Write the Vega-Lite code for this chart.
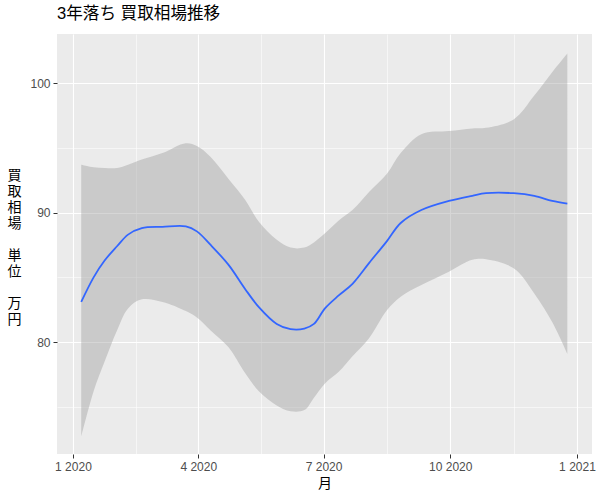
{
  "$schema": "https://vega.github.io/schema/vega-lite/v6.json",
  "autosize": {"type": "none"},
  "width": 535,
  "height": 420,
  "padding": {"left": 57, "top": 34, "right": 8, "bottom": 46},
  "background": "white",
  "view": {"fill": "#EBEBEB", "stroke": null},
  "config": {
    "font": "Liberation Sans, Noto Sans CJK JP",
    "axis": {
      "domain": false,
      "gridColor": "white",
      "labelColor": "#4D4D4D",
      "labelFontSize": 12,
      "tickColor": "#333333",
      "tickSize": 4,
      "titleFontWeight": "normal",
      "titleColor": "black"
    }
  },
  "title": {
    "text": "3年落ち 買取相場推移",
    "anchor": "start",
    "frame": "group",
    "fontSize": 16.6,
    "fontWeight": "normal",
    "color": "black",
    "baseline": "alphabetic",
    "offset": 0,
    "dy": 2
  },
  "data": {
    "values": [
      {"date": "2020-01-07", "fit": 83.1, "lo": 72.7, "hi": 93.7},
      {"date": "2020-01-16", "fit": 85.0, "lo": 76.2, "hi": 93.5},
      {"date": "2020-01-24", "fit": 86.3, "lo": 78.5, "hi": 93.45},
      {"date": "2020-02-02", "fit": 87.4, "lo": 80.9, "hi": 93.45},
      {"date": "2020-02-10", "fit": 88.3, "lo": 82.6, "hi": 93.7},
      {"date": "2020-02-20", "fit": 88.8, "lo": 83.3, "hi": 94.1},
      {"date": "2020-03-06", "fit": 88.9, "lo": 83.1, "hi": 94.6},
      {"date": "2020-03-23", "fit": 88.94, "lo": 82.4, "hi": 95.36},
      {"date": "2020-03-31", "fit": 88.55, "lo": 81.9, "hi": 95.15},
      {"date": "2020-04-10", "fit": 87.5, "lo": 80.9, "hi": 94.3},
      {"date": "2020-04-23", "fit": 85.96, "lo": 79.6, "hi": 92.6},
      {"date": "2020-05-05", "fit": 84.1, "lo": 77.6, "hi": 91.0},
      {"date": "2020-05-15", "fit": 82.7, "lo": 76.2, "hi": 89.3},
      {"date": "2020-05-28", "fit": 81.4, "lo": 75.1, "hi": 87.9},
      {"date": "2020-06-07", "fit": 81.0, "lo": 74.65, "hi": 87.3},
      {"date": "2020-06-17", "fit": 81.04, "lo": 74.74, "hi": 87.3},
      {"date": "2020-06-24", "fit": 81.4, "lo": 75.7, "hi": 87.7},
      {"date": "2020-07-02", "fit": 82.6, "lo": 76.8, "hi": 88.4},
      {"date": "2020-07-12", "fit": 83.6, "lo": 77.7, "hi": 89.4},
      {"date": "2020-07-22", "fit": 84.5, "lo": 78.9, "hi": 90.2},
      {"date": "2020-08-03", "fit": 86.1, "lo": 80.3, "hi": 91.6},
      {"date": "2020-08-16", "fit": 87.8, "lo": 82.46, "hi": 93.0},
      {"date": "2020-08-26", "fit": 89.2, "lo": 83.5, "hi": 94.6},
      {"date": "2020-09-10", "fit": 90.2, "lo": 84.4, "hi": 96.06},
      {"date": "2020-09-30", "fit": 90.9, "lo": 85.44, "hi": 96.3},
      {"date": "2020-10-17", "fit": 91.3, "lo": 86.35, "hi": 96.5},
      {"date": "2020-10-27", "fit": 91.5, "lo": 86.4, "hi": 96.55},
      {"date": "2020-11-16", "fit": 91.5, "lo": 85.7, "hi": 97.2},
      {"date": "2020-12-01", "fit": 91.3, "lo": 83.76, "hi": 99.04},
      {"date": "2020-12-14", "fit": 90.9, "lo": 81.55, "hi": 100.85},
      {"date": "2020-12-25", "fit": 90.7, "lo": 79.1, "hi": 102.3}
    ]
  },
  "encoding": {
    "x": {
      "field": "date",
      "type": "temporal",
      "scale": {
        "type": "utc",
        "domain": [
          {"year": 2019, "month": 12, "date": 20, "hours": 10, "utc": true},
          {"year": 2021, "month": 1, "date": 11, "hours": 22, "utc": true}
        ]
      },
      "axis": {
        "title": "月",
        "titleFontSize": 14,
        "titlePadding": 4,
        "labelPadding": 3,
        "labelFlush": false,
        "labelOverlap": false,
        "values": [
          {"year": 2020, "month": 1, "date": 1, "utc": true},
          {"year": 2020, "month": 2, "date": 15, "hours": 12, "utc": true},
          {"year": 2020, "month": 4, "date": 1, "utc": true},
          {"year": 2020, "month": 5, "date": 16, "hours": 12, "utc": true},
          {"year": 2020, "month": 7, "date": 1, "utc": true},
          {"year": 2020, "month": 8, "date": 16, "utc": true},
          {"year": 2020, "month": 10, "date": 1, "utc": true},
          {"year": 2020, "month": 11, "date": 16, "utc": true},
          {"year": 2021, "month": 1, "date": 1, "utc": true}
        ],
        "labelExpr": "utcdate(datum.value) == 1 && utchours(datum.value) == 0 ? utcFormat(datum.value, '%-m %Y') : ''",
        "gridWidth": {"condition": {"test": "utcdate(datum.value) == 1 && utchours(datum.value) == 0", "value": 1.1}, "value": 0.55},
        "tickOpacity": {"condition": {"test": "utcdate(datum.value) == 1 && utchours(datum.value) == 0", "value": 1}, "value": 0}
      }
    }
  },
  "layer": [
    {
      "mark": {"type": "area", "color": "#999999", "opacity": 0.4, "interpolate": "catmull-rom"},
      "encoding": {
        "y": {
          "field": "lo",
          "type": "quantitative",
          "scale": {"domain": [71.35, 103.8], "nice": false, "zero": false},
          "axis": {
            "values": [75, 80, 85, 90, 95, 100],
            "labelExpr": "datum.value % 10 == 0 ? datum.label : ''",
            "gridWidth": {"condition": {"test": "datum.value % 10 == 0", "value": 1.1}, "value": 0.55},
            "tickOpacity": {"condition": {"test": "datum.value % 10 == 0", "value": 1}, "value": 0},
            "labelPadding": 3,
            "title": ["買", "取", "相", "場", "\u200b", "単", "位", "\u200b\u200b", "万", "円"],
            "titleAngle": 0,
            "titleFontSize": 14,
            "titleLineHeight": 16,
            "titleAlign": "center",
            "titleBaseline": "middle",
            "titleX": -43,
            "titleY": 141
          }
        },
        "y2": {"field": "hi"}
      }
    },
    {
      "mark": {"type": "line", "color": "#3366FF", "strokeWidth": 1.8, "interpolate": "catmull-rom"},
      "encoding": {
        "y": {"field": "fit", "type": "quantitative"}
      }
    }
  ]
}
